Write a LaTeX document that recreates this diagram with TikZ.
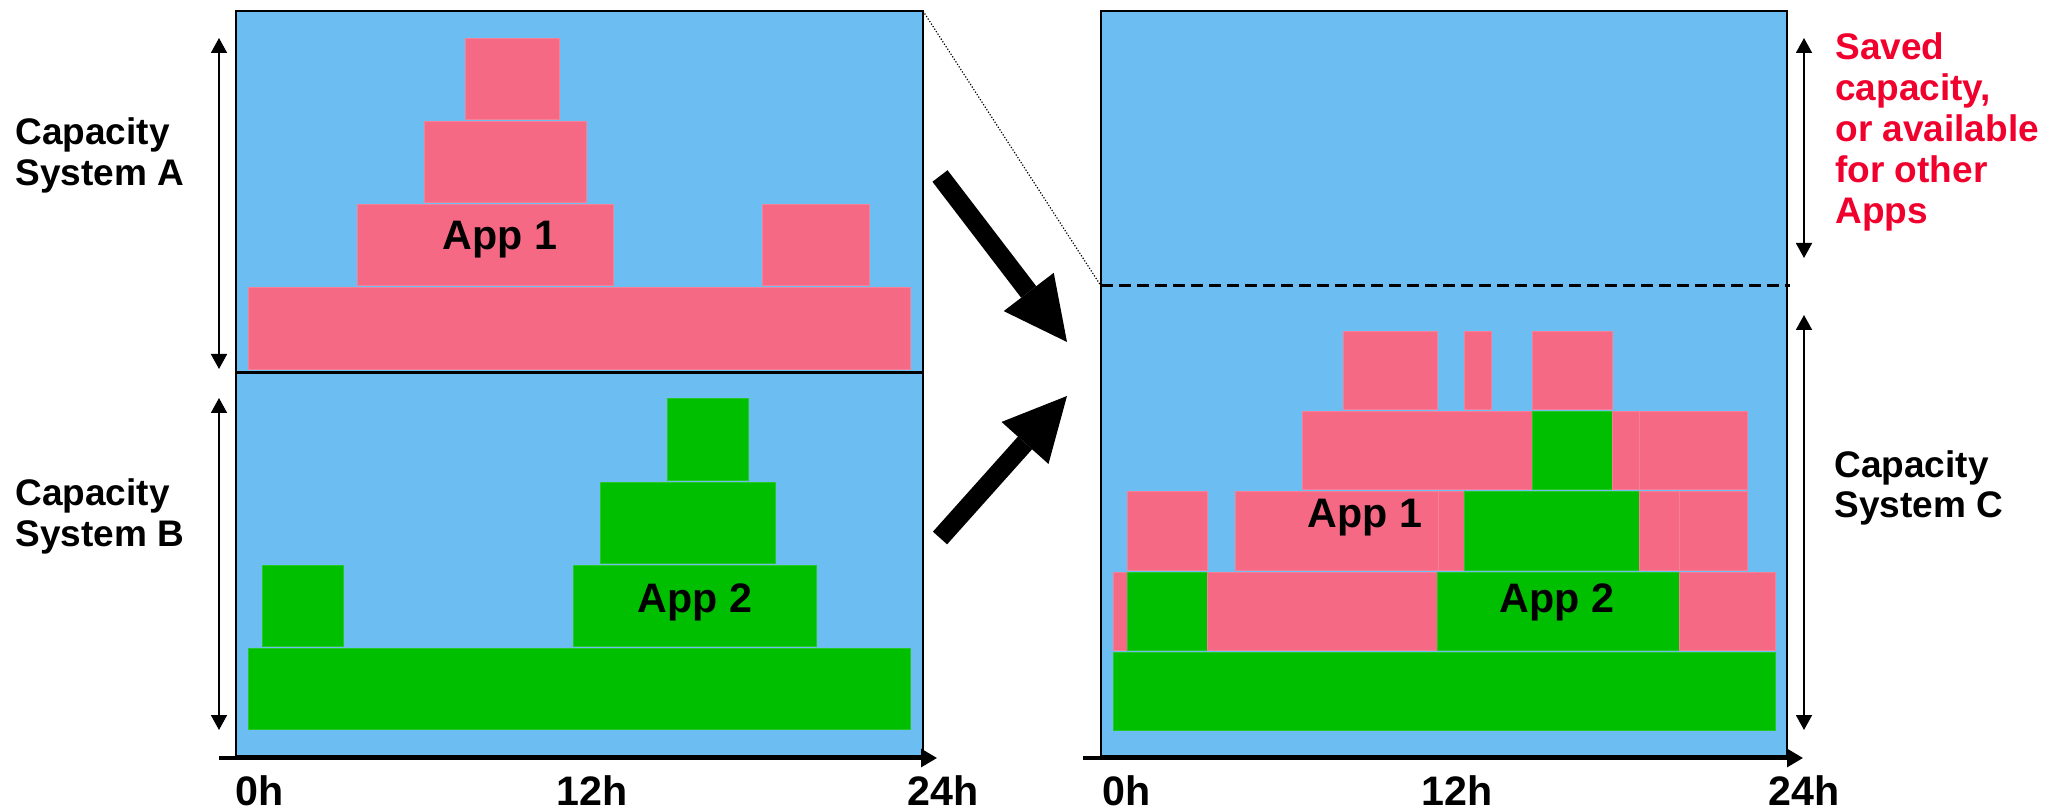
\documentclass[tikz,border=0pt]{standalone}
\usepackage{fontspec}
\setmainfont{Liberation Sans}
\usetikzlibrary{arrows.meta}

\definecolor{skyfill}{RGB}{108,190,242}
\definecolor{appone}{RGB}{245,105,133}
\definecolor{apptwo}{RGB}{0,190,0}
\definecolor{savedred}{RGB}{240,0,45}

\begin{document}
\begin{tikzpicture}[
    x=0.5pt, y=-0.5pt,
    panel/.style={fill=skyfill, draw=black, line width=1.1pt},
    appA/.style={fill=appone, draw=appone!85!white, line width=0.4pt},
    appB/.style={fill=apptwo, draw=apptwo!85!white, line width=0.4pt},
    spanarrow/.style={{Triangle[width=8pt,length=7.5pt]}-{Triangle[width=8pt,length=7.5pt]}, line width=0.9pt},
    timeaxis/.style={-{Triangle[width=9pt,length=8pt]}, line width=1.6pt},
    mergearrow/.style={-{Triangle[width=31.5pt,length=31.5pt,line width=0pt]}, line width=9.5pt},
    syslabel/.style={font=\bfseries\fontsize{18.5}{20.5}\selectfont, align=left,
                anchor=base west, inner sep=0pt},
    ticklabel/.style={font=\bfseries\fontsize{20.6}{24}\selectfont, anchor=base, inner sep=0pt}
]
\useasboundingbox (0,0) rectangle (2052,812);

\draw[panel] (236,11) rectangle (923,372);
\draw[panel] (236,373) rectangle (923,756);
\draw[panel] (1101,11) rectangle (1787,756);

\fill[appA] (465,38) rectangle (559,119);
\fill[appA] (424,121) rectangle (586,202);
\fill[appA] (357,204) rectangle (613,285);
\fill[appA] (762,204) rectangle (869,285);
\fill[appA] (248,287) rectangle (910,369);

\fill[appB] (667,398) rectangle (748,480);
\fill[appB] (600,482) rectangle (775,563);
\fill[appB] (573,565) rectangle (816,646);
\fill[appB] (262,565) rectangle (343,646);
\fill[appB] (248,648) rectangle (910,729);

\fill[appA] (1343,331) rectangle (1437,409);
\fill[appA] (1464,331) rectangle (1491,409);
\fill[appA] (1532,331) rectangle (1612,409);
\fill[appA] (1302,411) rectangle (1532,489);
\fill[appB] (1532,411) rectangle (1612,489);
\fill[appA] (1612,411) rectangle (1639,489);
\fill[appA] (1639,411) rectangle (1747,489);
\fill[appA] (1127,491) rectangle (1207,570);
\fill[appA] (1235,491) rectangle (1438,570);
\fill[appA] (1438,491) rectangle (1464,570);
\fill[appB] (1464,491) rectangle (1639,570);
\fill[appA] (1639,491) rectangle (1679,570);
\fill[appA] (1679,491) rectangle (1747,570);
\fill[appA] (1113,572) rectangle (1127,650);
\fill[appB] (1127,572) rectangle (1207,650);
\fill[appA] (1207,572) rectangle (1437,650);
\fill[appB] (1437,572) rectangle (1679,650);
\fill[appA] (1679,572) rectangle (1775,650);
\fill[appB] (1113,652) rectangle (1775,730);

\coordinate (cornerA) at (923,11);
\coordinate (limitL) at (1101,286);
\coordinate (limitR) at (1790,286);
\draw[line width=0.6pt, dash pattern=on 0.6pt off 0.9pt] (cornerA) -- (limitL);
\draw[line width=1.5pt, dash pattern=on 6pt off 3pt] (limitL) -- (limitR);

\coordinate (oA) at (219,758);
\coordinate (eA) at (937,758);
\coordinate (oC) at (1083,758);
\coordinate (eC) at (1803,758);
\draw[timeaxis] (oA) -- (eA);
\draw[timeaxis] (oC) -- (eC);

\coordinate (hiA) at (219,38);
\coordinate (loA) at (219,369);
\coordinate (hiB) at (219,398);
\coordinate (loB) at (219,730);
\coordinate (hiS) at (1804,38);
\coordinate (loS) at (1804,258);
\coordinate (hiC) at (1804,315);
\coordinate (loC) at (1804,730);
\draw[spanarrow] (hiA) -- (loA);
\draw[spanarrow] (hiB) -- (loB);
\draw[spanarrow] (hiS) -- (loS);
\draw[spanarrow] (hiC) -- (loC);

\coordinate (fromA) at (940,176);
\coordinate (toA) at (1067,342);
\coordinate (fromB) at (940,538);
\coordinate (toB) at (1067,396);
\draw[mergearrow] (fromA) -- (toA);
\draw[mergearrow] (fromB) -- (toB);

\node[syslabel] (capA) at (15,186) {Capacity\\System A};
\node[syslabel] (capB) at (15,546) {Capacity\\System B};
\node[syslabel] (capC) at (1834,518) {Capacity\\System C};
\node[syslabel, text=savedred] (saved) at (1835,224) {Saved\\capacity,\\or available\\for other\\Apps};

\node[ticklabel] (app1A) at (500,250) {App 1};
\node[ticklabel] (app2B) at (695,612) {App 2};
\node[ticklabel] (app1C) at (1365,528) {App 1};
\node[ticklabel] (app2C) at (1557,612) {App 2};

\node[ticklabel] (t0A) at (260,805) {0h};
\node[ticklabel] (t12A) at (592,805) {12h};
\node[ticklabel] (t24A) at (943,805) {24h};
\node[ticklabel] (t0C) at (1127,805) {0h};
\node[ticklabel] (t12C) at (1457,805) {12h};
\node[ticklabel] (t24C) at (1804,805) {24h};
\end{tikzpicture}
\end{document}
